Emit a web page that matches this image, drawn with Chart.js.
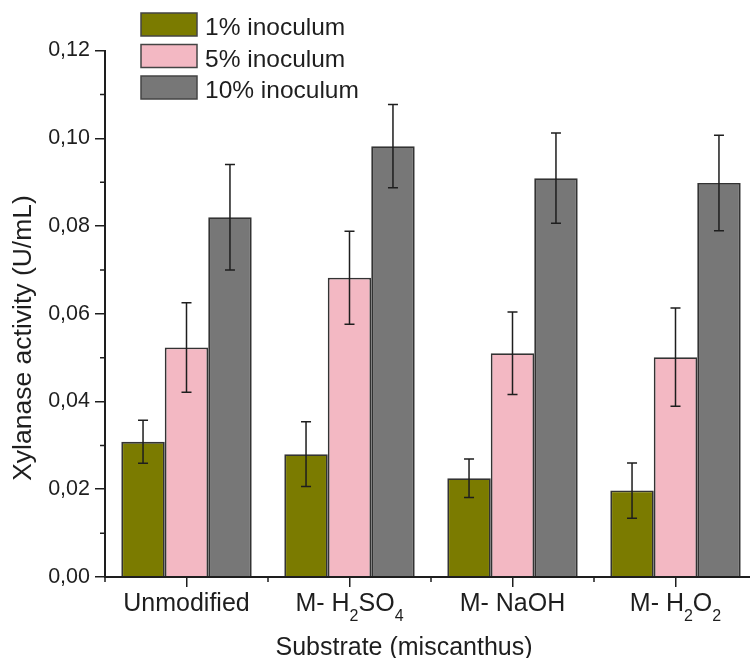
<!DOCTYPE html>
<html>
<head>
<meta charset="utf-8">
<title>Xylanase activity</title>
<script src="https://cdn.jsdelivr.net/npm/chart.js@4.4.1/dist/chart.umd.min.js"></script>
<style>
  html, body { margin: 0; padding: 0; background: #fff; overflow: hidden; }
  #wrap { width: 750px; height: 658px; overflow: hidden; }
  canvas { display: block; }
</style>
</head>
<body>
<div id="wrap"><canvas id="chart" width="770" height="658"></canvas></div>
<script>
// ── data ──
const categories = ["Unmodified", "M- H₂SO₄", "M- NaOH", "M- H₂O₂"];
const seriesNames = ["1% inoculum", "5% inoculum", "10% inoculum"];
const inoc1 = [0.0308, 0.0280, 0.0225, 0.0197];
const inoc1Err = [0.0049, 0.0074, 0.0044, 0.0063];
const inoc5 = [0.0523, 0.0682, 0.0510, 0.0501];
const inoc5Err = [0.0102, 0.0106, 0.0094, 0.0112];
const inoc10 = [0.0820, 0.0982, 0.0909, 0.0898];
const inoc10Err = [0.0120, 0.0095, 0.0103, 0.0109];
const yTicks = [0, 0.02, 0.04, 0.06, 0.08, 0.10, 0.12];
const xTitle = "Substrate (miscanthus)";
const yTitle = "Xylanase activity (U/mL)";

const FONT = "'Liberation Sans', Arial, sans-serif";
const INK = "#1e1e1e";
const SUBS = { "₀": "0", "₁": "1", "₂": "2", "₃": "3", "₄": "4" };

Chart.defaults.font.family = FONT;
Chart.defaults.color = INK;

// error bars, minor ticks, subscript labels, titles, legend
const extras = {
  id: "extras",
  afterDatasetsDraw(chart) {
    const ctx = chart.ctx;
    const y = chart.scales.y;
    chart.data.datasets.forEach((ds, di) => {
      chart.getDatasetMeta(di).data.forEach((bar, i) => {
        const top = y.getPixelForValue(ds.data[i] + ds.errors[i]);
        const bot = y.getPixelForValue(ds.data[i] - ds.errors[i]);
        ctx.save();
        ctx.strokeStyle = INK;
        ctx.lineWidth = 1.5;
        ctx.beginPath();
        ctx.moveTo(bar.x, top); ctx.lineTo(bar.x, bot);
        ctx.moveTo(bar.x - 5, top); ctx.lineTo(bar.x + 5, top);
        ctx.moveTo(bar.x - 5, bot); ctx.lineTo(bar.x + 5, bot);
        ctx.stroke();
        ctx.restore();
      });
    });
  },
  afterDraw(chart) {
    const ctx = chart.ctx;
    const { left, bottom } = chart.chartArea;
    const x = chart.scales.x, y = chart.scales.y;
    ctx.save();
    ctx.strokeStyle = INK;
    ctx.lineWidth = 1.5;

    // minor ticks
    ctx.beginPath();
    for (let i = 0; i < yTicks.length - 1; i++) {
      const py = y.getPixelForValue((yTicks[i] + yTicks[i + 1]) / 2);
      ctx.moveTo(left - 5, py); ctx.lineTo(left, py);
    }
    for (let i = 0; i < categories.length; i++) {
      const px = x.getPixelForValue(i) - (x.getPixelForValue(1) - x.getPixelForValue(0)) / 2;
      ctx.moveTo(px, bottom); ctx.lineTo(px, bottom + 5);
    }
    ctx.stroke();

    // category labels with subscripts
    ctx.fillStyle = INK;
    ctx.textBaseline = "alphabetic";
    ctx.textAlign = "left";
    categories.forEach((label, i) => {
      const parts = [...label].map((ch) => SUBS[ch]
        ? { t: SUBS[ch], f: "16px " + FONT, dy: 10 }
        : { t: ch, f: "25px " + FONT, dy: 0 });
      let w = 0;
      parts.forEach((p) => { ctx.font = p.f; p.w = ctx.measureText(p.t).width; w += p.w; });
      let px = x.getPixelForValue(i) - w / 2;
      parts.forEach((p) => {
        ctx.font = p.f;
        ctx.fillText(p.t, px, bottom + 34 + p.dy);
        px += p.w;
      });
    });

    // axis titles
    ctx.font = "25px " + FONT;
    ctx.textAlign = "center";
    ctx.fillText(xTitle, 404, 655);
    ctx.save();
    ctx.translate(31, 338);
    ctx.rotate(-Math.PI / 2);
    ctx.font = "26.5px " + FONT;
    ctx.fillText(yTitle, 0, 0);
    ctx.restore();

    // legend
    ctx.textAlign = "left";
    ctx.font = "24.5px " + FONT;
    chart.data.datasets.forEach((ds, i) => {
      const ly = 13 + i * 31.5;
      ctx.fillStyle = ds.backgroundColor;
      ctx.fillRect(141, ly, 56, 23);
      ctx.strokeStyle = "#444";
      ctx.strokeRect(141, ly, 56, 23);
      ctx.fillStyle = INK;
      ctx.fillText(ds.label, 205, ly + 22);
    });
    ctx.restore();
  },
};

const barStyle = {
  borderColor: "#333333",
  borderWidth: 1.8,
  categoryPercentage: 0.8,
  barPercentage: 1.0,
};

new Chart(document.getElementById("chart"), {
  type: "bar",
  data: {
    labels: categories,
    datasets: [
      { label: seriesNames[0], data: inoc1, errors: inoc1Err, backgroundColor: "#7b7b00", ...barStyle },
      { label: seriesNames[1], data: inoc5, errors: inoc5Err, backgroundColor: "#f3b8c3", ...barStyle },
      { label: seriesNames[2], data: inoc10, errors: inoc10Err, backgroundColor: "#777777", ...barStyle },
    ],
  },
  options: {
    responsive: false,
    animation: false,
    devicePixelRatio: 1,
    layout: { padding: { left: 0, top: 50.5, right: 13, bottom: 0 } },
    plugins: { legend: { display: false }, tooltip: { enabled: false } },
    scales: {
      x: {
        offset: true,
        grid: { display: true, drawOnChartArea: false, offset: false, tickLength: 10, color: INK, lineWidth: 1.5 },
        border: { color: INK, width: 2, z: 1 },
        ticks: { display: false },
        afterFit: (s) => { s.height = 81; },
      },
      y: {
        min: 0,
        max: 0.12,
        grid: { drawOnChartArea: false, tickLength: 10, color: INK, lineWidth: 1.5 },
        border: { color: INK, width: 2, z: 1 },
        ticks: {
          font: { size: 21.5 },
          padding: 5,
          callback: (v) => v.toFixed(2).replace(".", ","),
        },
        afterBuildTicks: (s) => { s.ticks = yTicks.map((v) => ({ value: v })); },
        afterFit: (s) => { s.width = 105; },
      },
    },
  },
  plugins: [extras],
});
</script>
</body>
</html>
